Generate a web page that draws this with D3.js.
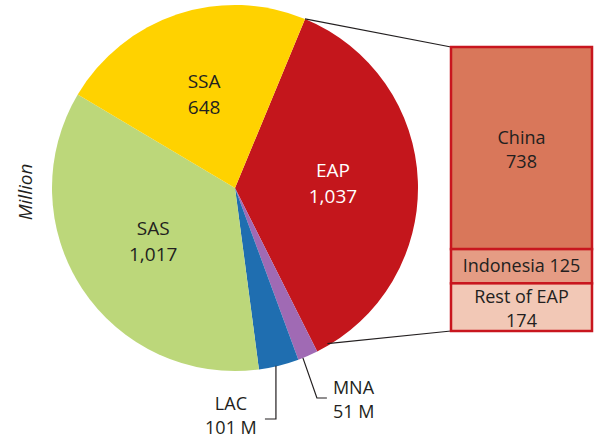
<!DOCTYPE html>
<html>
<head>
<meta charset="utf-8">
<script src="https://cdn.jsdelivr.net/npm/d3@7"></script>
<style>
  body { margin: 0; background: #fff; }
  text { font-family: "Open Sans", "Noto Sans", sans-serif; fill: #231f20; }
</style>
</head>
<body>
<svg id="chart" width="596" height="440"></svg>
<script>
// regions, clockwise from the top-right
var regions = ["EAP", "MNA", "LAC", "SAS", "SSA"];
var regionValues = [1037, 51, 101, 1017, 648];
var regionColors = ["#c4161c", "#a06ab4", "#1f6eb0", "#bcd77a", "#ffd200"];

// breakdown of EAP
var eapParts = ["China", "Indonesia", "Rest of EAP"];
var eapValues = [738, 125, 174];
var eapColors = ["#d9775a", "#e59c84", "#f2c8b6"];

var svg = d3.select("#chart");
var cx = 235, cy = 188, radius = 183;
var startAngle = 22.5 * Math.PI / 180;
var fmt = d3.format(",");

var pie = d3.pie().sort(null)
    .startAngle(startAngle)
    .endAngle(startAngle + 2 * Math.PI);
var arcs = pie(regionValues);

var arc = d3.arc().innerRadius(0).outerRadius(radius);
var labelArc = d3.arc().innerRadius(98).outerRadius(98);

var pieGroup = svg.append("g").attr("transform", "translate(" + cx + "," + cy + ")");

pieGroup.selectAll("path")
  .data(arcs)
  .enter().append("path")
    .attr("d", arc)
    .attr("fill", function(d, i) { return regionColors[i]; });

// big slices get labels inside
var inside = arcs.filter(function(d, i) { return regionValues[i] > 300; });
inside.forEach(function(d) {
  var c = labelArc.centroid(d);
  var t = pieGroup.append("text")
      .attr("text-anchor", "middle")
      .attr("font-size", 19)
      .style("fill", regions[d.index] == "EAP" ? "#fff" : "#231f20");
  t.append("tspan").attr("x", c[0]).attr("y", c[1] - 7).text(regions[d.index]);
  t.append("tspan").attr("x", c[0]).attr("y", c[1] + 19).text(fmt(regionValues[d.index]));
});

// point on pie edge for a given angle
function edge(a, r) {
  return [cx + r * Math.sin(a), cy - r * Math.cos(a)];
}

// LAC leader: straight down then left
var lac = arcs[2];
var p0 = edge((lac.startAngle + lac.endAngle) / 2, radius);
var lacY = 419;
svg.append("path")
    .attr("d", "M" + (p0[0] - 3) + "," + p0[1] + "V" + lacY + "H" + (p0[0] - 14))
    .attr("fill", "none").attr("stroke", "#231f20").attr("stroke-width", 1.2);
var lacText = svg.append("text").attr("text-anchor", "middle").attr("font-size", 18);
lacText.append("tspan").attr("x", p0[0] - 48).attr("y", 410).text(regions[2]);
lacText.append("tspan").attr("x", p0[0] - 48).attr("y", 434).text(regionValues[2] + " M");

// MNA leader: diagonal then right
var mna = arcs[1];
var p1 = edge((mna.startAngle + mna.endAngle) / 2, radius);
var mnaY = 398;
svg.append("path")
    .attr("d", "M" + (p1[0] - 5) + "," + (p1[1] + 2) + "L" + (p1[0] + 9) + "," + mnaY + "H" + (p1[0] + 19))
    .attr("fill", "none").attr("stroke", "#231f20").attr("stroke-width", 1.2);
var mnaText = svg.append("text").attr("font-size", 18);
mnaText.append("tspan").attr("x", p1[0] + 25).attr("y", 394).text(regions[1]);
mnaText.append("tspan").attr("x", p1[0] + 25).attr("y", 418).text(regionValues[1] + " M");

// "Million" axis note
svg.append("text")
    .attr("transform", "translate(32,192) rotate(-90)")
    .attr("text-anchor", "middle")
    .attr("font-size", 19)
    .attr("font-style", "italic")
    .text("Million");

// EAP breakdown stacked box
var boxX = 451, boxW = 141, boxTop = 47, boxBottom = 331;
var y = d3.scaleLinear()
    .domain([0, d3.sum(eapValues)])
    .range([boxTop, boxBottom]);

var stack = [];
var acc = 0;
eapValues.forEach(function(v, i) {
  stack.push({ name: eapParts[i], value: v, y0: acc, y1: acc + v, color: eapColors[i] });
  acc += v;
});

// connector lines from the EAP slice edges to the box
var eap = arcs[0];
var topPt = edge(eap.startAngle, radius);
var botPt = edge(eap.endAngle - 0.07, radius - 2);
svg.append("line")
    .attr("x1", topPt[0]).attr("y1", topPt[1]).attr("x2", boxX).attr("y2", boxTop)
    .attr("stroke", "#231f20").attr("stroke-width", 1.2);
svg.append("line")
    .attr("x1", botPt[0]).attr("y1", botPt[1]).attr("x2", boxX).attr("y2", boxBottom)
    .attr("stroke", "#231f20").attr("stroke-width", 1.2);

var boxes = svg.append("g").selectAll("g")
  .data(stack)
  .enter().append("g");

boxes.append("rect")
    .attr("x", boxX)
    .attr("y", function(d) { return y(d.y0); })
    .attr("width", boxW)
    .attr("height", function(d) { return y(d.y1) - y(d.y0); })
    .attr("fill", function(d) { return d.color; })
    .attr("stroke", "#c8161e")
    .attr("stroke-width", 2.5);

boxes.each(function(d) {
  var g = d3.select(this);
  var mid = (y(d.y0) + y(d.y1)) / 2;
  var h = y(d.y1) - y(d.y0);
  var t = g.append("text").attr("text-anchor", "middle").attr("font-size", 18);
  if (h < 40) {
    t.attr("x", boxX + boxW / 2).attr("y", mid + 6).text(d.name + " " + d.value);
  } else {
    t.append("tspan").attr("x", boxX + boxW / 2).attr("y", mid - 4).text(d.name);
    t.append("tspan").attr("x", boxX + boxW / 2).attr("y", mid + 20).text(d.value);
  }
});
</script>
</body>
</html>
